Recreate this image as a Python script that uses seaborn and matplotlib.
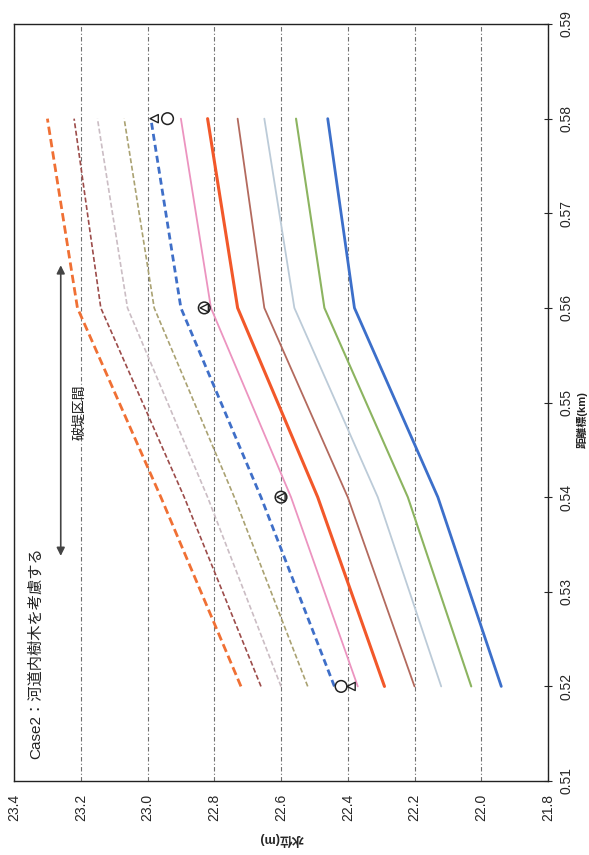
import matplotlib
matplotlib.use("Agg")
import matplotlib.pyplot as plt
import seaborn as sns
import pandas as pd

# ---- data ----
dist = [0.52, 0.54, 0.56, 0.58]
level_a = [22.72, 22.96, 23.21, 23.30]
level_b = [22.66, 22.89, 23.14, 23.22]
level_c = [22.60, 22.82, 23.06, 23.15]
level_d = [22.52, 22.74, 22.98, 23.07]
level_e = [22.44, 22.66, 22.90, 22.99]
level_f = [22.37, 22.57, 22.81, 22.90]
level_g = [22.29, 22.49, 22.73, 22.82]
level_h = [22.20, 22.40, 22.65, 22.73]
level_i = [22.12, 22.31, 22.56, 22.65]
level_j = [22.03, 22.22, 22.47, 22.555]
level_k = [21.94, 22.13, 22.38, 22.46]

obs_circle = [22.42, 22.60, 22.83, 22.94]
obs_triangle = [22.39, 22.60, 22.83, 22.98]

level_ticks = [23.4, 23.2, 23.0, 22.8, 22.6, 22.4, 22.2, 22.0, 21.8]
dist_ticks = [0.51, 0.52, 0.53, 0.54, 0.55, 0.56, 0.57, 0.58, 0.59]

series = {
    "a": level_a, "b": level_b, "c": level_c, "d": level_d, "e": level_e,
    "f": level_f, "g": level_g, "h": level_h, "i": level_i, "j": level_j,
    "k": level_k,
}
styles = {
    "a": dict(color="#f07034", lw=2.0, ls=(0, (3, 1.5))),
    "b": dict(color="#9c4c4a", lw=1.2, ls=(0, (3, 1.5))),
    "c": dict(color="#cbbdc4", lw=1.2, ls=(0, (3, 1.5))),
    "d": dict(color="#aaa272", lw=1.2, ls=(0, (3, 1.5))),
    "e": dict(color="#3f6fc8", lw=2.0, ls=(0, (2.5, 1.5))),
    "f": dict(color="#ec94c0", lw=1.3, ls="-"),
    "g": dict(color="#f2582a", lw=2.2, ls="-"),
    "h": dict(color="#b36a5e", lw=1.3, ls="-"),
    "i": dict(color="#bccbd8", lw=1.3, ls="-"),
    "j": dict(color="#8cb460", lw=1.5, ls="-"),
    "k": dict(color="#3c6fca", lw=2.0, ls="-"),
}

sns.set_style("white")
plt.rcParams["font.family"] = ["Liberation Sans", "Noto Sans CJK JP", "DejaVu Sans"]

fig = plt.figure(figsize=(5.89, 8.55), dpi=100)
ax = fig.add_axes([0.0238, 0.0865, 0.9066, 0.8854])

for key, vals in series.items():
    df = pd.DataFrame({"level": vals, "dist": dist})
    st = styles[key]
    sns.lineplot(data=df, x="level", y="dist", orient="y", estimator=None,
                 color=st["color"], linewidth=st["lw"], linestyle=st["ls"], ax=ax,
                 zorder=3)

obs_df_c = pd.DataFrame({"level": obs_circle, "dist": dist})
obs_df_t = pd.DataFrame({"level": obs_triangle, "dist": dist})
sns.scatterplot(data=obs_df_c, x="level", y="dist", marker="o", s=70,
                facecolor="none", edgecolor="#222222", linewidth=1.1, ax=ax, zorder=5)
sns.scatterplot(data=obs_df_t, x="level", y="dist", marker="<", s=35,
                facecolor="none", edgecolor="#222222", linewidth=1.0, ax=ax, zorder=6)

ax.set_xlim(23.4, 21.8)
ax.set_ylim(0.51, 0.59)
ax.set_xticks(level_ticks)
ax.set_xticklabels([f"{v:.1f}" for v in level_ticks], rotation=90, fontsize=10)
ax.yaxis.tick_right()
ax.set_yticks(dist_ticks)
ax.set_yticklabels([f"{v:.2f}" for v in dist_ticks], rotation=90, fontsize=10,
                   va="center")
ax.tick_params(axis="x", direction="inout", length=6, width=0.8, pad=6)
ax.tick_params(axis="y", direction="inout", length=6, width=0.8, pad=5)

ax.grid(axis="x", color="#707070", linestyle=(0, (4, 2, 1, 2)), linewidth=0.8)
ax.grid(axis="y", visible=False)
for sp in ax.spines.values():
    sp.set_color("#222222")
    sp.set_linewidth(1.0)

ax.set_xlabel("水位(m)", rotation=180, fontsize=9, fontweight="bold", labelpad=8)
ax.set_ylabel("")
fig.text(582 / 589, 1 - 420 / 855, "距離標(km)", rotation=90, fontsize=8,
         fontweight="bold", ha="center", va="center", color="#222222")

ax.annotate("", xy=(23.26, 0.5648), xytext=(23.26, 0.5335),
            arrowprops=dict(arrowstyle="<|-|>", color="#444444", lw=1.2,
                            mutation_scale=12), zorder=4)
ax.text(23.205, 0.549, "破堤区間", rotation=90, fontsize=10, ha="center",
        va="center", color="#222222")
ax.text(23.335, 0.5235, "Case2：河道内樹木を考慮する", rotation=90, fontsize=11,
        ha="center", va="center", color="#222222")

fig.savefig("out.png", dpi=100)
